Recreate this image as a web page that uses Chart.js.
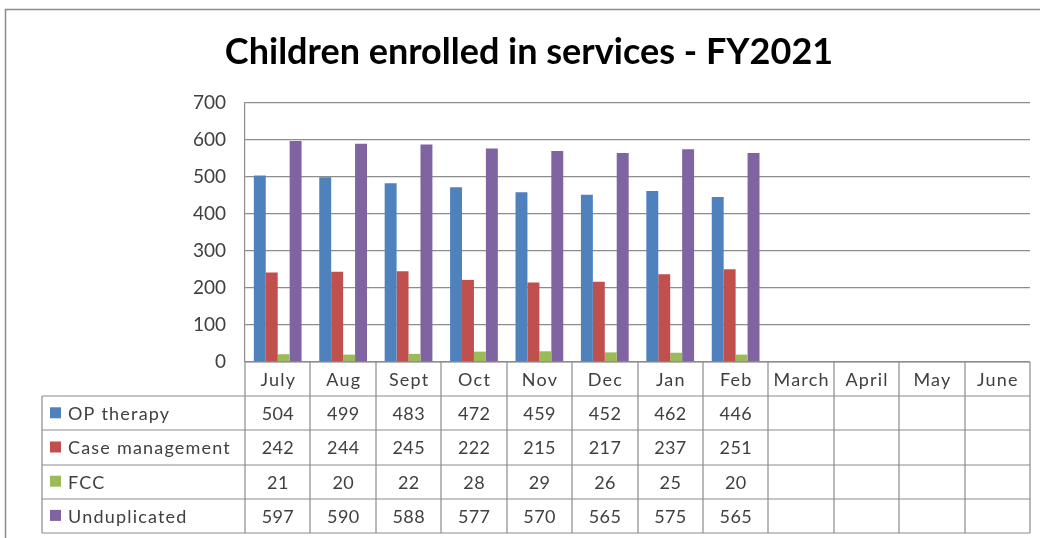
<!DOCTYPE html>
<html>
<head>
<meta charset="utf-8">
<script src="https://cdn.jsdelivr.net/npm/chart.js@4/dist/chart.umd.min.js"></script>
<style>
html,body{margin:0;padding:0;background:#fff;}
#wrap{width:1040px;height:538px;}
</style>
</head>
<body>
<div id="wrap"><canvas id="c" width="1040" height="538"></canvas></div>
<script>
const categories = ['July','Aug','Sept','Oct','Nov','Dec','Jan','Feb','March','April','May','June'];
const seriesNames = ['OP therapy','Case management','FCC','Unduplicated'];
const opTherapy = [504,499,483,472,459,452,462,446,null,null,null,null];
const caseManagement = [242,244,245,222,215,217,237,251,null,null,null,null];
const fcc = [21,20,22,28,29,26,25,20,null,null,null,null];
const unduplicated = [597,590,588,577,570,565,575,565,null,null,null,null];
const yMin = 0, yMax = 700, yStep = 100;
const titleText = 'Children enrolled in services - FY2021';

const seriesColors = ['#4F81BD','#C0504D','#9BBB59','#8064A2'];
const FONT = 'Lato, "Open Sans", "Liberation Sans", sans-serif';
const TEXT = '#404040';
const GRID = '#8c8c8c';

const seriesValues = [opTherapy, caseManagement, fcc, unduplicated];

const frame = {
  id: 'frame',
  beforeDraw(chart) {
    const ctx = chart.ctx;
    ctx.save();
    ctx.fillStyle = '#fff';
    ctx.fillRect(0, 0, chart.width, chart.height);
    ctx.strokeStyle = '#8a8a8a';
    ctx.lineWidth = 1.5;
    ctx.beginPath();
    ctx.moveTo(5.5, chart.height);
    ctx.lineTo(5.5, 9.5);
    ctx.lineTo(chart.width, 9.5);
    ctx.stroke();
    ctx.restore();
  }
};

const dataTable = {
  id: 'dataTable',
  afterDraw(chart) {
    const ctx = chart.ctx, xs = chart.scales.x, a = chart.chartArea;
    const n = categories.length;
    const colW = (a.right - a.left) / n;
    const top = a.bottom;
    const rows = seriesNames.length + 1;
    const rowH = 34.2;
    const bottom = top + rowH * rows;
    const tableLeft = 42;
    ctx.save();
    ctx.strokeStyle = GRID;
    ctx.lineWidth = 1.2;
    ctx.beginPath();
    for (let r = 0; r <= rows; r++) {
      const y = Math.round(top + r * rowH);
      ctx.moveTo(r === 0 ? a.left : tableLeft, y);
      ctx.lineTo(a.right, y);
    }
    for (let i = 0; i <= n; i++) {
      const xx = Math.round(a.left + i * colW);
      ctx.moveTo(xx, top);
      ctx.lineTo(xx, bottom);
    }
    ctx.moveTo(tableLeft, Math.round(top + rowH));
    ctx.lineTo(tableLeft, bottom);
    ctx.stroke();

    ctx.fillStyle = TEXT;
    ctx.font = '18px ' + FONT;
    ctx.textBaseline = 'middle';
    ctx.textAlign = 'center';
    ctx.letterSpacing = '1.2px';
    categories.forEach((c, i) => {
      ctx.fillText(c, xs.getPixelForValue(i) + 0.6, top + rowH / 2 + 1);
    });
    chart.data.datasets.forEach((ds, r) => {
      const yc = top + (r + 1.5) * rowH;
      ctx.fillStyle = ds.backgroundColor;
      ctx.fillRect(50, yc - 6, 11, 11);
      ctx.fillStyle = TEXT;
      ctx.textAlign = 'left';
      ctx.letterSpacing = '1.2px';
      ctx.fillText(ds.label, 68, yc + 1);
      ctx.textAlign = 'center';
      ctx.letterSpacing = '0.4px';
      ds.data.forEach((v, i) => {
        if (v !== null && v !== undefined) {
          ctx.fillText(String(v), xs.getPixelForValue(i) + 0.2, yc + 1);
        }
      });
    });
    ctx.restore();
  }
};

new Chart(document.getElementById('c'), {
  type: 'bar',
  data: {
    labels: categories,
    datasets: seriesNames.map((name, i) => ({
      label: name,
      data: seriesValues[i],
      backgroundColor: seriesColors[i],
      borderWidth: 0,
      categoryPercentage: 0.73,
      barPercentage: 1.0
    }))
  },
  options: {
    responsive: false,
    animation: false,
    layout: { padding: { left: 28, right: 10, top: 0, bottom: 176 } },
    plugins: {
      legend: { display: false },
      tooltip: { enabled: false },
      title: {
        display: true,
        text: titleText,
        color: '#000',
        font: { family: FONT, size: 36, weight: 'bold', lineHeight: 1.2 },
        padding: { top: 30.7, bottom: 29.1 }
      }
    },
    scales: {
      x: {
        display: false,
        offset: true,
        grid: { display: false }
      },
      y: {
        min: yMin,
        max: yMax,
        afterFit(scale) { scale.width = 217; },
        ticks: {
          stepSize: yStep,
          color: TEXT,
          font: { family: FONT, size: 19 },
          padding: 19
        },
        grid: { color: GRID, lineWidth: 1.2, drawTicks: false },
        border: { display: true, color: GRID, width: 1.2 }
      }
    }
  },
  plugins: [frame, dataTable]
});
</script>
</body>
</html>
